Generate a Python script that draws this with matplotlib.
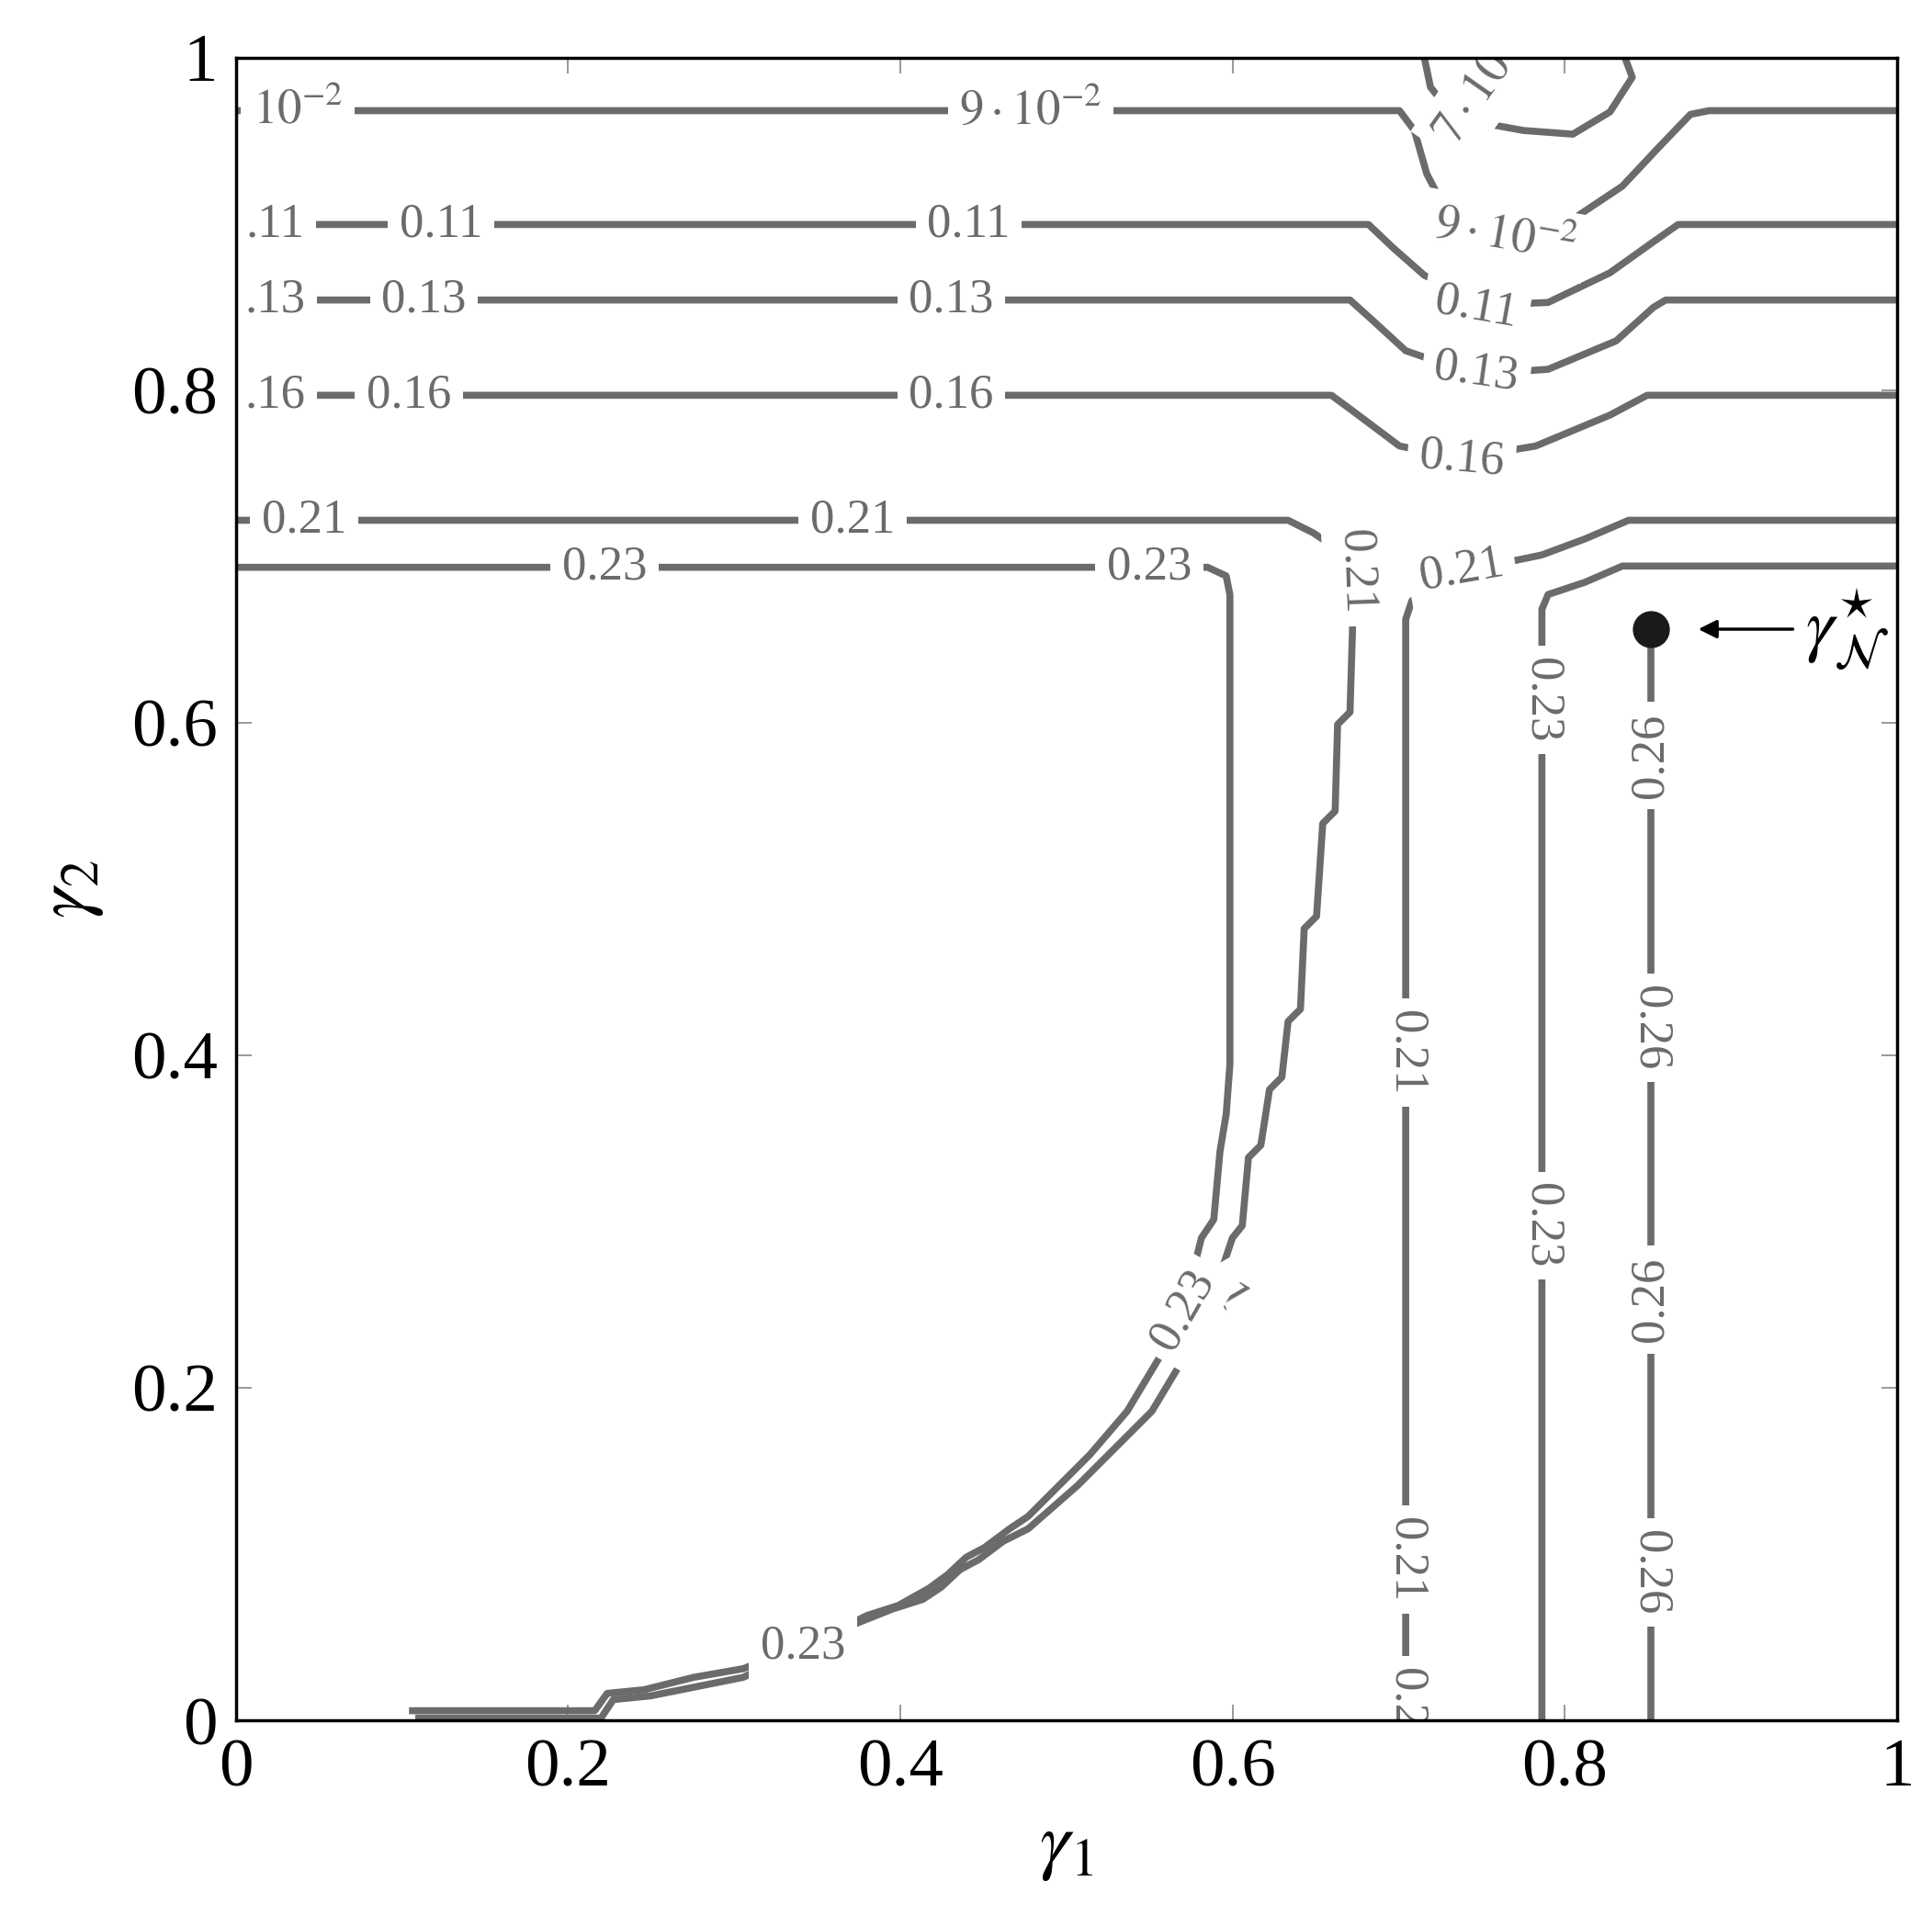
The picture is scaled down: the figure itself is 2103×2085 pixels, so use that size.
import matplotlib
matplotlib.use("Agg")
import matplotlib.pyplot as plt

plt.rcParams['font.family'] = ['Liberation Serif', 'DejaVu Serif']
plt.rcParams['mathtext.fontset'] = 'stix'

# contour polylines, in pixel readings of the reference (x px, y px)
X0, X1, Y0, Y1 = 190, 1532, 1390, 46
def d(pts):
    return ([(p[0]-X0)/(X1-X0) for p in pts], [(Y0-p[1])/(Y0-Y1) for p in pts])

c009 = [(190,89),(1130,89),(1142,105),(1152,140),(1165,165),(1215,192),(1265,180),(1310,150),(1340,118),(1365,92),(1380,89),(1532,89)]
c007 = [(1150,46),(1155,70),(1175,95),(1230,105),(1270,108),(1300,90),(1318,62),(1312,46)]
c011 = [(190,181),(1105,181),(1125,200),(1150,222),(1200,246),(1250,244),(1300,220),(1335,195),(1355,181),(1532,181)]
c013 = [(190,242),(1090,242),(1110,260),(1135,283),(1190,302),(1250,298),(1305,275),(1335,248),(1345,242),(1532,242)]
c016 = [(190,319),(1075,319),(1090,330),(1130,360),(1180,370),(1240,360),(1300,335),(1330,319),(1532,319)]
c021a = [(190,420),(1040,420),(1060,430),(1078,442),(1092,470),(1092,510),(1090,575),(1080,585),(1078,655),(1068,665),(1063,740),(1053,750),(1050,815),(1040,825),(1035,870),(1025,880),(1018,925),(1008,935),(1003,990),(995,1000),(985,1030),(960,1090),(930,1140),(905,1165),(870,1200),(830,1235),(810,1245),(790,1260),(775,1268),(760,1282),(745,1292),(720,1300),(600,1348),(560,1355),(520,1365),(490,1368),(480,1382),(330,1382)]
c023a = [(190,458),(975,458),(990,465),(993,480),(993,860),(990,900),(985,930),(980,985),(970,1000),(960,1040),(940,1090),(910,1140),(880,1175),(830,1225),(815,1235),(795,1250),(780,1258),(765,1272),(750,1283),(725,1297),(700,1305),(600,1355),(565,1362),(525,1370),(495,1373),(485,1388),(335,1388)]
c021b = [(1532,420),(1315,420),(1280,435),(1245,448),(1178,462),(1140,485),(1135,500),(1135,1390)]
c023b = [(1532,457),(1310,457),(1280,470),(1250,480),(1245,492),(1245,1390)]
c026 = [(1333,510),(1333,1390)]
contours = [c009, c007, c011, c013, c016, c021a, c023a, c021b, c023b, c026]

labels = [  # (x px, y px, text, rotation)
    (240,89,r'$10^{-2}$',0),(832,89,r'$9\cdot10^{-2}$',0),(1190,80,r'$7\cdot10$',55),(1215,190,r'$9\cdot10^{-2}$',-10),
    (222,181,'.11',0),(356,181,'0.11',0),(782,181,'0.11',0),(1192,248,'0.11',-10),
    (222,242,'.13',0),(342,242,'0.13',0),(768,242,'0.13',0),(1192,300,'0.13',-8),
    (222,319,'.16',0),(330,319,'0.16',0),(768,319,'0.16',0),(1180,370,'0.16',-5),
    (245,420,'0.21',0),(688,420,'0.21',0),(1180,460,'0.21',10),(1095,462,'0.21',-88),
    (1135,850,'0.21',-90),(1135,1260,'0.21',-90),(1135,1372,'0.2',-90),(990,1045,'.1',-60),
    (488,458,'0.23',0),(928,458,'0.23',0),(955,1058,'0.23',60),(648,1330,'0.23',0),
    (1245,565,'0.23',-90),(1245,990,'0.23',-90),
    (1333,610,'0.26',90),(1333,830,'0.26',-90),(1333,1050,'0.26',90),(1333,1270,'0.26',-90),
]
opt_pt = (1333,508)

fig = plt.figure(figsize=(21.03,20.85), dpi=100)
ax = fig.add_axes([0.122,0.1015,0.860,0.8685])
gray = '#6b6b6b'
for c in contours:
    xs, ys = d(c)
    ax.plot(xs, ys, color=gray, lw=5.5, solid_capstyle='butt', zorder=2)
for x, y, t, r in labels:
    xs, ys = d([(x,y)])
    ax.text(xs[0], ys[0], t, rotation=r, ha='center', va='center', fontsize=38, color=gray,
            rotation_mode='anchor', zorder=3,
            bbox=dict(facecolor='white', edgecolor='none', pad=9), clip_on=True)
px, py = d([opt_pt])
ax.plot(px, py, 'o', color='#1a1a1a', ms=28, zorder=4)
ax.annotate('', xy=(px[0]+0.027, py[0]), xytext=(px[0]+0.087, py[0]),
            arrowprops=dict(arrowstyle='-|>', color='black', lw=2.5, mutation_scale=30))
ax.text(px[0]+0.093, py[0], r'$\gamma^{\star}_{\mathcal{N}}$', fontsize=56, va='center', ha='left', clip_on=False)

ax.set_xlim(0,1); ax.set_ylim(0,1)
ticks = [0,0.2,0.4,0.6,0.8,1]
tl = ['0','0.2','0.4','0.6','0.8','1']
ax.set_xticks(ticks); ax.set_xticklabels(tl)
ax.set_yticks(ticks); ax.set_yticklabels(tl)
ax.tick_params(direction='in', top=True, right=True, length=12, width=1.2, color='#888888', labelsize=54, pad=14)
for s in ax.spines.values():
    s.set_linewidth(2.5)
    s.set_zorder(6)
ax.set_xlabel(r'$\gamma_1$', fontsize=60, labelpad=10)
ax.set_ylabel(r'$\gamma_2$', fontsize=60, labelpad=20)
fig.savefig('out.png', dpi=100)
